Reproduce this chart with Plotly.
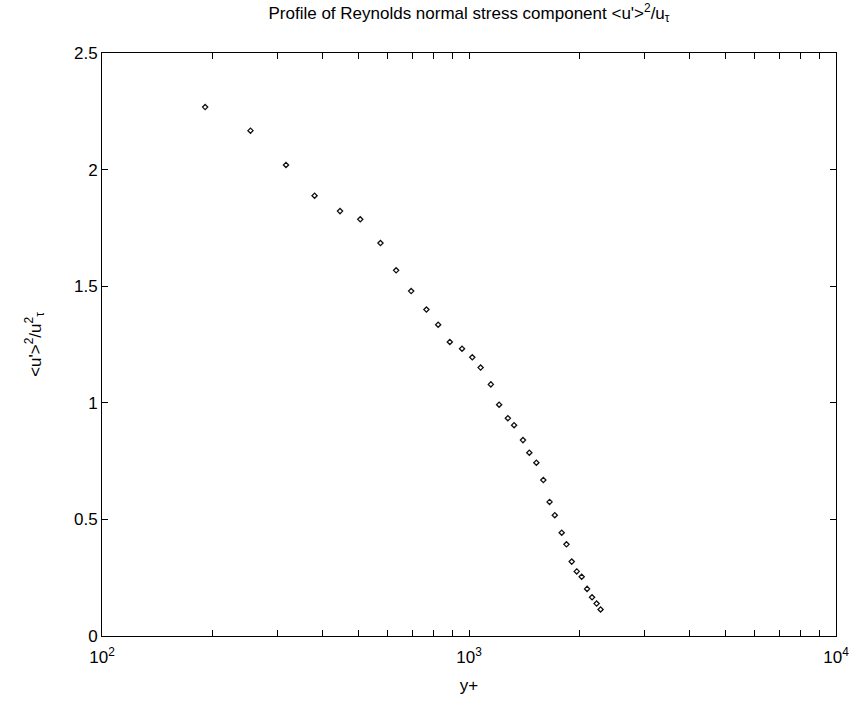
import plotly.graph_objects as go

# Data (y+ vs <u'>^2/u_tau^2)
y_plus = [191.0, 253.9, 317.2, 379.5, 445.2, 505.5, 573.8, 633.0, 695.6, 765.6,
          824.1, 886.6, 957.2, 1020.7, 1075.7, 1147, 1208, 1276, 1327, 1403,
          1460, 1526, 1594, 1658, 1713, 1789, 1843, 1905, 1966, 2028,
          2098, 2164, 2227, 2283]
stress = [2.268, 2.167, 2.020, 1.888, 1.822, 1.787, 1.685, 1.568, 1.479, 1.400,
          1.335, 1.261, 1.232, 1.195, 1.151, 1.079, 0.992, 0.934, 0.904, 0.840,
          0.786, 0.743, 0.669, 0.575, 0.518, 0.443, 0.393, 0.319, 0.277, 0.254,
          0.202, 0.166, 0.139, 0.114]

x_tickvals = [100, 1000, 10000]
x_ticktext = ["10<sup>2</sup>", "10<sup>3</sup>", "10<sup>4</sup>"]
x_minor = [200, 300, 400, 500, 600, 700, 800, 900,
           2000, 3000, 4000, 5000, 6000, 7000, 8000, 9000]
y_tickvals = [0, 0.5, 1, 1.5, 2, 2.5]
y_ticktext = ["0", "0.5", "1", "1.5", "2", "2.5"]

FONT = "Liberation Sans Narrow, Liberation Sans, Arial, sans-serif"
FS = 17

fig = go.Figure()
fig.add_trace(go.Scatter(
    x=y_plus, y=stress, mode="markers",
    marker=dict(symbol="diamond-open", size=4, color="#111111",
                line=dict(width=1.3, color="#111111")),
    showlegend=False,
))

fig.update_layout(
    width=861, height=712,
    margin=dict(l=102, r=21, t=53, b=76),
    paper_bgcolor="white", plot_bgcolor="white",
    font=dict(family=FONT, size=FS, color="black"),
    title=dict(text="Profile of Reynolds normal stress component &lt;u'&gt;<sup>2</sup>/u<sub>τ</sub>",
               x=0.5, xref="paper", xanchor="center",
               y=1, yref="container", yanchor="top", pad=dict(t=7),
               font=dict(family=FONT, size=FS, color="black")),
    xaxis=dict(
        type="log", range=[2, 4],
        tickmode="array", tickvals=x_tickvals, ticktext=x_ticktext,
        ticks="inside", ticklen=6, tickwidth=1, tickcolor="black",
        ticklabelstandoff=6,
        minor=dict(tickmode="array", tickvals=x_minor, ticks="inside",
                   ticklen=6, tickwidth=1, tickcolor="black", showgrid=False),
        showline=True, linecolor="black", linewidth=1, mirror="ticks",
        showgrid=False, zeroline=False,
        tickfont=dict(family=FONT, size=FS, color="black"),
        title=dict(text="y+", standoff=12, font=dict(family=FONT, size=FS, color="black")),
    ),
    yaxis=dict(
        range=[0, 2.5],
        tickmode="array", tickvals=y_tickvals, ticktext=y_ticktext,
        ticks="inside", ticklen=6, tickwidth=1, tickcolor="black",
        showline=True, linecolor="black", linewidth=1, mirror="ticks",
        showgrid=False, zeroline=False,
        tickfont=dict(family=FONT, size=FS, color="black"),
        title=dict(text="&lt;u'&gt;<sup>2</sup>/u<sup>2</sup><sub>τ</sub>", standoff=28,
                   font=dict(family=FONT, size=FS, color="black")),
    ),
)

fig.write_html("out.html")
